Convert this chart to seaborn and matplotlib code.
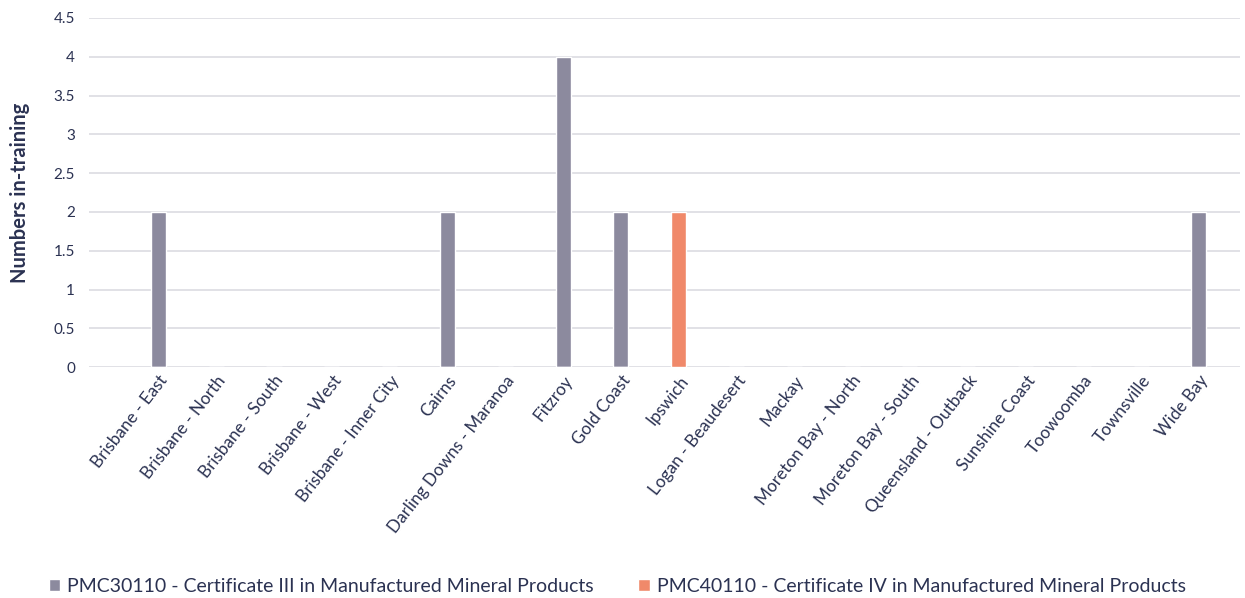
import matplotlib
matplotlib.use("Agg")
import matplotlib.pyplot as plt
import seaborn as sns
import pandas as pd

categories = ["Brisbane - East", "Brisbane - North", "Brisbane - South", "Brisbane - West",
              "Brisbane - Inner City", "Cairns", "Darling Downs - Maranoa", "Fitzroy",
              "Gold Coast", "Ipswich", "Logan - Beaudesert", "Mackay", "Moreton Bay - North",
              "Moreton Bay - South", "Queensland - Outback", "Sunshine Coast", "Toowoomba",
              "Townsville", "Wide Bay"]
series_names = ["PMC30110 - Certificate III in Manufactured Mineral Products",
                "PMC40110 - Certificate IV in Manufactured Mineral Products"]
cert3 = [2, 0, 0, 0, 0, 2, 0, 4, 2, 0, 0, 0, 0, 0, 0, 0, 0, 0, 2]
cert4 = [0, 0, 0, 0, 0, 0, 0, 0, 0, 2, 0, 0, 0, 0, 0, 0, 0, 0, 0]
yticks = [0, 0.5, 1, 1.5, 2, 2.5, 3, 3.5, 4, 4.5]
colors = ["#8c8a9e", "#f0896a"]
text_color = "#2b3252"

df = pd.DataFrame({
    "Region": categories * 2,
    "Qualification": [series_names[0]] * len(categories) + [series_names[1]] * len(categories),
    "Value": cert3 + cert4,
})

sns.set_theme(style="white")
plt.rcParams["font.family"] = ["Lato", "DejaVu Sans"]

fig = plt.figure(figsize=(12.45, 5.98), dpi=100)
ax = fig.add_axes([0.0715, 0.386, 0.9245, 0.584])

sns.barplot(data=df, x="Region", y="Value", hue="Qualification", order=categories,
            hue_order=series_names, palette=colors, dodge=False, width=0.26,
            saturation=1, ax=ax, legend=True, errorbar=None)

ax.set_xlim(-1.2, 18.71)
ax.set_ylim(0, 4.5)
ax.set_yticks(yticks)
ax.set_yticklabels([f"{v:g}" for v in yticks])
ax.yaxis.grid(True, color="#dcdce2", linewidth=1.2)
ax.set_axisbelow(True)
for s in ax.spines.values():
    s.set_visible(False)
ax.tick_params(axis="y", length=0, colors=text_color, labelsize=11, pad=10)
ax.tick_params(axis="x", length=0, colors=text_color, labelsize=12.3, pad=4)
for lbl in ax.get_xticklabels():
    lbl.set_rotation(52)
    lbl.set_ha("right")
    lbl.set_rotation_mode("anchor")
ax.set_xlabel("")
ax.set_ylabel("Numbers in-training", fontsize=14.5, fontweight="bold", color=text_color, labelpad=17)

handles, labels = ax.get_legend_handles_labels()
ax.legend_.remove()
fig.legend(handles, labels, loc="center left", bbox_to_anchor=(0.025, 0.019), ncol=2,
           frameon=False, fontsize=14, handlelength=0.6, handleheight=0.6,
           handletextpad=0.35, columnspacing=2.3, labelcolor=text_color)

fig.savefig("out.png", dpi=100)
